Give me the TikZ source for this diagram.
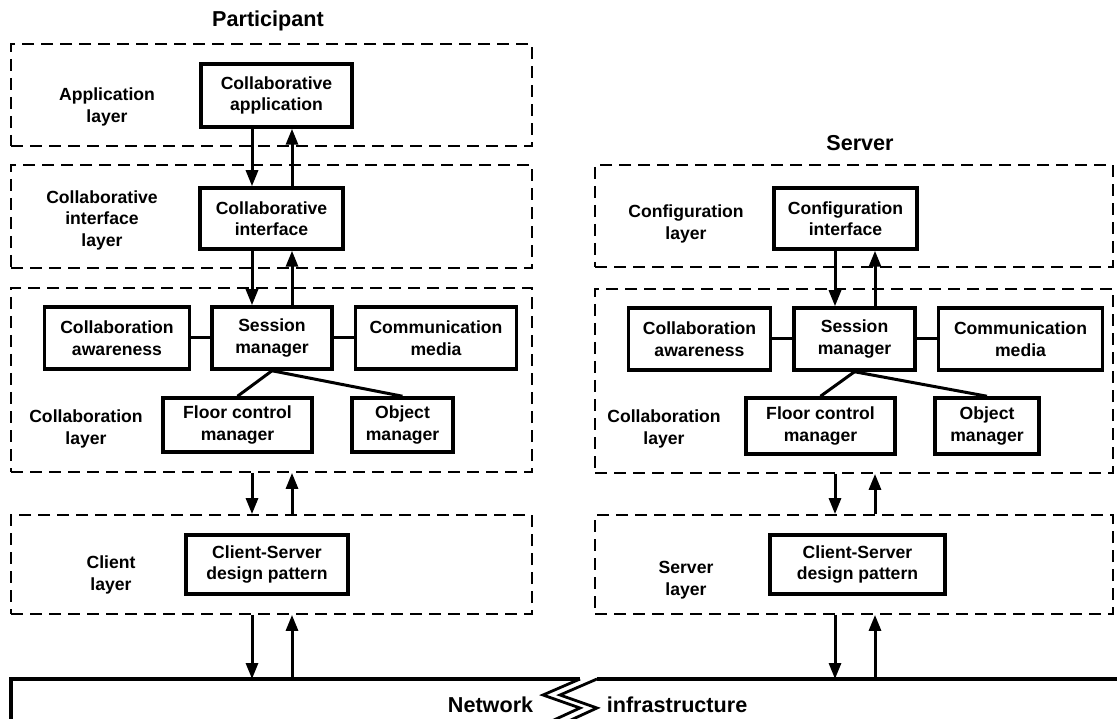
\documentclass[tikz,border=0pt]{standalone}
\usepackage{fontspec}
\setmainfont{Liberation Sans}
\usetikzlibrary{arrows.meta,positioning}

\begin{document}
\begin{tikzpicture}[
    x = 1pt, y = -1pt, % one unit is one pixel of the page
    > = {Triangle[length=16pt,width=12pt]}, % arrow head style
    font = \bfseries\fontsize{17.6}{21.5}\selectfont,
    node distance = 20pt,
    line width = 3pt
    ]

    \tikzset{
    layer/.style 2 args = {draw, line width=1.8pt, dash pattern=on 12pt off 7pt,
        inner sep=0pt, minimum width=#1pt, minimum height=#2pt},
    comp/.style 2 args = {draw, line width=3.5pt, align=center, inner sep=0pt,
        minimum width=#1pt, minimum height=#2pt},
    lbl/.style = {align=center},
    title/.style = {font=\bfseries\fontsize{21.6}{26}\selectfont}
    }
    \useasboundingbox (0,0) rectangle (1117,719);

    % participant side
    \node[title] (ptitle) at (268,21) {Participant};
    \node[layer={521}{102}] (papp) at (271.5,95) {};
    \node[layer={521}{103}] (pint) at (271.5,216.5) {};
    \node[layer={521}{184}] (pcol) at (271.5,380) {};
    \node[layer={521}{99}] (pcli) at (271.5,564.5) {};

    \node[lbl] (lapp) at (107,107) {Application\\layer};
    \node[lbl] (lint) at (102,220) {Collaborative\\interface\\layer};
    \node[lbl] (lpcol) at (86,429) {Collaboration\\layer};
    \node[lbl] (lcli) at (111,575) {Client\\layer};

    \node[comp={151}{63}] (capp) at (276.5,95.5) {Collaborative\\application};
    \node[comp={143}{61}] (cint) at (271.5,218.5) {Collaborative\\interface};
    \node[comp={120}{62}] (psess) at (272,338) {Session\\manager};
    \node[comp={145}{62}] (pawr) [left=19pt of psess] {Collaboration\\awareness};
    \node[comp={161}{62}] (pcomm) [right=of psess] {Communication\\media};
    \node[comp={149}{54}] (pfloor) at (237.5,425) {Floor control\\manager};
    \node[comp={101}{54}] (pobj) at (402.5,425) {Object\\manager};
    \node[comp={162}{59}] (pcs) at (267,564.5) {Client-Server\\design pattern};

    % server side
    \node[title] (stitle) at (860,143) {Server};
    \node[layer={518}{102}] (scfg) at (854,216) {};
    \node[layer={518}{184}] (scol) at (854,381) {};
    \node[layer={518}{99}] (ssrv) at (854,564.5) {};

    \node[lbl] (lcfg) at (686,224) {Configuration\\layer};
    \node[lbl] (lscol) at (664,429) {Collaboration\\layer};
    \node[lbl] (lsrv) at (686,580) {Server\\layer};

    \node[comp={143}{61}] (ccfg) at (845.5,218.5) {Configuration\\interface};
    \node[comp={121}{62}] (ssess) at (854.5,339) {Session\\manager};
    \node[comp={142}{62}] (sawr) [left=20pt of ssess] {Collaboration\\awareness};
    \node[comp={164}{62}] (scomm) [right=of ssess] {Communication\\media};
    \node[comp={149}{56}] (sfloor) at (820.5,426) {Floor control\\manager};
    \node[comp={104}{56}] (sobj) at (987,426) {Object\\manager};
    \node[comp={175}{59}] (scs) at (857.5,564.5) {Client-Server\\design pattern};

    % network
    \coordinate (netl) at (11,679);
    \coordinate (netr) at (597,679);
    \draw[line width=3.5pt] (11,730) -- (netl) -- (580,679);
    \draw[line width=3.5pt] (netr) -- (1130,679);
    \draw[line width=2.8pt] (580,679) -- (543,695) -- (580,708) -- (543,725);
    \draw[line width=2.8pt] (597,679) -- (560,695) -- (597,708) -- (560,725);
    \node[title, anchor=east] (lnet) at (538,705) {Network};
    \node[title, anchor=west] (linf) at (602,705) {infrastructure};

    % arrow columns
    \coordinate (pl) at (252,0);
    \coordinate (pr) at (292,0);
    \coordinate (sl) at (835,0);
    \coordinate (sr) at (875,0);

    \draw[->] (capp.south -| pl) -- (cint.north -| pl);
    \draw[->] (cint.north -| pr) -- (capp.south -| pr);
    \draw[->] (cint.south -| pl) -- (psess.north -| pl);
    \draw[->] (psess.north -| pr) -- (cint.south -| pr);
    \draw[->] (pcol.south -| pl) -- (pcli.north -| pl);
    \draw[->] (pcli.north -| pr) -- (pcol.south -| pr);
    \draw[->] (pcli.south -| pl) -- (netl -| pl);
    \draw[->] (netl -| pr) -- (pcli.south -| pr);

    \draw[->] (ccfg.south -| sl) -- (ssess.north -| sl);
    \draw[->] (ssess.north -| sr) -- (ccfg.south -| sr);
    \draw[->] (scol.south -| sl) -- (ssrv.north -| sl);
    \draw[->] (ssrv.north -| sr) -- (scol.south -| sr);
    \draw[->] (ssrv.south -| sl) -- (netr -| sl);
    \draw[->] (netr -| sr) -- (ssrv.south -| sr);

    % plain links
    \draw (pawr) -- (psess);
    \draw (psess) -- (pcomm);
    \draw (psess.south) -- (pfloor.north);
    \draw (psess.south) -- (pobj.north);
    \draw (sawr) -- (ssess);
    \draw (ssess) -- (scomm);
    \draw (ssess.south) -- (sfloor.north);
    \draw (ssess.south) -- (sobj.north);
\end{tikzpicture}
\end{document}
